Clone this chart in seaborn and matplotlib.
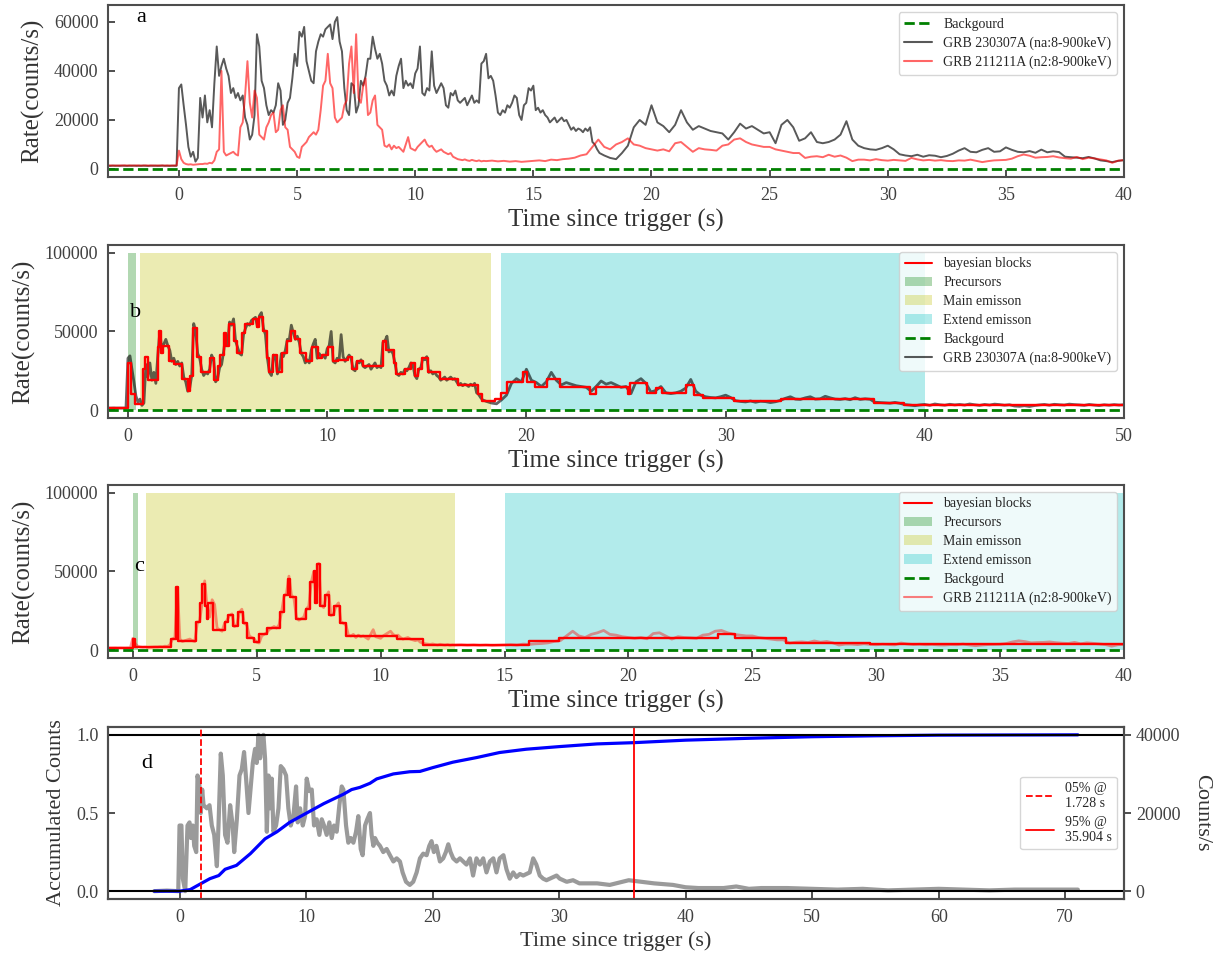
import numpy as np
import matplotlib
matplotlib.use("Agg")
import matplotlib.pyplot as plt
from matplotlib.lines import Line2D
from matplotlib.patches import Patch
import seaborn as sns

# ---------------------------------------------------------------- data
# GRB 230307A (NaI, 8-900 keV): 0.1 s bins from -3 to 18 s, 0.25 s bins to 50 s
t_na = np.concatenate([np.round(np.arange(-3.0, 18.0 - 1e-9, 0.1), 2),
                       np.round(np.arange(18.0, 50.0 + 1e-9, 0.25), 2)])
rate_na = [
    1300, 1250, 1350, 1280, 1320, 1260, 1340, 1300, 1270, 1330,
    1290, 1350, 1260, 1310, 1280, 1340, 1300, 1250, 1320, 1290,
    1330, 1270, 1310, 1350, 1280, 1300, 1260, 1340, 1290, 1310,
    33000, 34500, 26000, 18000, 9000, 5000, 7000, 3000, 4500, 29000,
    21000, 30000, 19000, 24000, 17000, 35000, 50000, 38000, 42000, 45000,
    41000, 38000, 31000, 33000, 29000, 31000, 28000, 30000, 21000, 18000,
    12000, 14000, 22000, 55000, 50000, 36000, 33000, 26000, 22000, 24000,
    23000, 26000, 35000, 32000, 18000, 20000, 27000, 29000, 37000, 47000,
    42000, 56000, 54000, 58000, 44000, 40000, 36000, 35000, 48000, 52000,
    55000, 54000, 57000, 58000, 59000, 53000, 60000, 62000, 52000, 48000,
    33000, 24000, 22000, 35000, 34000, 23000, 26000, 36000, 34000, 38000,
    45000, 45000, 54000, 49000, 45000, 47000, 43000, 36000, 34000, 30000,
    32000, 30000, 38000, 42000, 45000, 33000, 36000, 34000, 35000, 33000,
    39000, 41000, 50000, 31000, 30000, 33000, 32000, 48000, 34000, 31000,
    33000, 35000, 33000, 26000, 25000, 31000, 30000, 32000, 28000, 27000,
    28000, 29000, 26000, 28000, 30000, 27000, 28000, 27000, 43000, 44000,
    47000, 37000, 38000, 36000, 30000, 23000, 22000, 24000, 23000, 26000,
    25000, 27000, 30000, 29000, 22000, 20000, 26000, 27000, 33000, 32000,
    34000, 24000, 25000, 23000, 24000, 22000, 21000, 19000, 20000, 21000,
    19000, 20000, 21000, 19500, 20000, 18000, 16000, 17000, 15500, 16500,
    16000, 15000, 16500, 15500, 17000, 11000, 10000, 8000, 6500, 6000,
    # 0.25 s bins from 18 s
    5500, 4500, 4000, 6500, 9500, 17000, 20000, 18000,
    26000, 19000, 17500, 15000, 18000, 24000, 19000, 16000,
    17500, 16500, 15500, 15000, 14500, 12000, 15000, 18500,
    16500, 17500, 16000, 14500, 15000, 10500, 18000, 20000,
    17000, 11500, 12500, 15000, 11000, 10500, 11000, 12000,
    14000, 19500, 12000, 9500, 8500, 8000, 7800, 8500,
    9500, 8000, 6000, 5500, 5200, 5800, 5000, 5600,
    5400, 4800, 5300, 6200, 7500, 8500, 7000, 6800,
    7800, 8500, 7000, 7200, 8800, 7800, 7000, 6800,
    7300, 6600, 7900, 6800, 7200, 6900, 5000, 4800,
    4600, 4400, 4900, 4300, 3500, 3200, 2800, 3300,
    3600, 3000, 3900, 3400, 3100, 3700, 3300, 3600,
    3200, 3900, 3400, 3000, 3600, 3200, 3800, 3500,
    3100, 3400, 2600, 2400, 2800, 2300, 2900, 3300,
    3600, 3100, 3700, 3400, 3200, 3800, 3500, 3300,
    3000, 3600, 3200, 2900, 3400, 3100, 3500, 3200,
    3400,
]

# GRB 211211A (n2, 8-900 keV): 0.1 s bins from -3 to 13 s, 0.25 s bins to 40 s
t_n2 = np.concatenate([np.round(np.arange(-3.0, 13.0 - 1e-9, 0.1), 2),
                       np.round(np.arange(13.0, 40.0 + 1e-9, 0.25), 2)])
rate_n2 = [
    1400, 1450, 1380, 1420, 1360, 1440, 1400, 1470, 1390, 1410,
    1430, 1370, 1450, 1400, 1380, 1420, 1460, 1390, 1410, 1440,
    1370, 1420, 1400, 1450, 1380, 1430, 1400, 1360, 1440, 1410,
    7500, 4000, 2500, 2000, 1800, 1900, 1700, 1800, 1900, 2000,
    2000, 2200, 2100, 2500, 2300, 3500, 7000, 8000, 40000, 7000,
    5500, 6000, 6500, 7000, 6000, 5500, 17000, 19000, 30000, 44000,
    27000, 21000, 32000, 29000, 14000, 13000, 12000, 17000, 19000, 22000,
    23000, 15000, 16000, 24000, 26000, 17000, 16000, 9000, 8000, 7000,
    5000, 4500, 9000, 10000, 11000, 13000, 14000, 15000, 14000, 16000,
    24000, 34000, 36000, 47000, 35000, 33000, 21000, 19000, 20000, 21000,
    26000, 28000, 43000, 50000, 31000, 55000, 29000, 27000, 34000, 37000,
    22000, 23000, 28000, 30000, 18000, 17000, 16000, 9500, 9000, 10000,
    8000, 9500, 8500, 9000, 8000, 7000, 10000, 13000, 8500, 8000,
    7500, 9000, 10000, 11000, 12000, 10000, 9000, 9500, 8000, 7000,
    7500, 8000, 7000, 6500, 6000, 6500, 5000, 4500, 4000, 3800,
    3600, 3900, 3500, 3300, 3700, 3400, 3200, 3500, 3100, 3300,
    # 0.25 s bins from 13 s
    3200, 3400, 3100, 3300, 3000, 3200, 2900, 3100,
    3300, 3500, 3200, 3800, 3600, 4000, 4200, 4600,
    5500, 6000, 9000, 12000, 9000, 8000, 10000, 11000,
    12500, 10000, 9500, 8500, 8000, 7500, 8000, 7200,
    10500, 11000, 9000, 7000, 8500, 8000, 7800, 7500,
    9500, 10000, 12000, 12500, 11000, 10000, 9500, 9000,
    9000, 8000, 7500, 7000, 6500, 6500, 4500, 5000,
    5200, 4800, 5800, 5000, 5500, 4600, 3200, 3800,
    3800, 3500, 4000, 3600, 3400, 3700, 3500, 3300,
    4500, 3900, 3500, 3700, 3400, 3600, 3300, 3200,
    3500, 3400, 3800, 3300, 2800, 3200, 3500, 3600,
    3700, 4200, 5200, 5900, 5400, 4600, 4800, 4900,
    5200, 4700, 4400, 4200, 4900, 4000, 4600, 4300,
    3900, 3500, 2500, 3400, 3600,
]
assert len(rate_na) == len(t_na) and len(rate_n2) == len(t_n2)

background_rate = 0.0

# Bayesian blocks: [block start (s), rate (counts/s)]
blocks_na = [
    [-1.0, 1500], [0.0, 30000], [0.14, 10000], [0.36, 4000], [0.75, 26000],
    [0.87, 34000], [0.99, 19000], [1.5, 40000], [1.58, 50000], [1.64, 36000],
    [1.74, 41000], [2.07, 31000], [2.33, 29000], [2.73, 20000], [3.02, 12000],
    [3.12, 22000], [3.26, 52000], [3.46, 34000], [3.66, 24000], [4.11, 33000],
    [4.31, 19000], [4.5, 28000], [4.64, 35000], [4.8, 49000], [4.94, 41000],
    [5.06, 55000], [5.3, 44000], [5.49, 36000], [5.73, 49000], [5.89, 55000],
    [6.28, 58000], [6.48, 53000], [6.58, 59000], [6.78, 50000], [6.98, 33000],
    [7.08, 24000], [7.27, 35000], [7.47, 24000], [7.71, 36000], [7.96, 44000],
    [8.2, 50000], [8.36, 45000], [8.66, 36000], [8.95, 31000], [9.25, 40000],
    [9.55, 33000], [9.74, 35000], [10.04, 40000], [10.28, 31000], [10.53, 32000],
    [11.03, 34000], [11.26, 26000], [11.52, 31000], [11.78, 28000], [12.8, 44000],
    [12.96, 38000], [13.36, 30000], [13.46, 23000], [13.89, 26000], [14.19, 30000],
    [14.39, 22000], [14.55, 26000], [14.78, 33000], [15.08, 24000], [15.67, 20000],
    [16.56, 16000], [17.55, 10000], [17.79, 6000], [18.44, 7000], [18.74, 11000],
    [19.03, 18000], [19.82, 24000], [20.02, 18000], [20.41, 15000], [21.01, 20000],
    [21.7, 15000], [23.18, 10000], [23.48, 15000], [25.1, 10000], [25.2, 17000],
    [26.06, 11000], [26.5, 14000], [26.8, 10800], [28.0, 16000], [28.4, 9500],
    [28.85, 8000], [30.4, 5500], [32.8, 7000], [37.45, 4500], [38.95, 3000],
    [40.3, 3500],
]
blocks_na_end = 50.0

blocks_n2 = [
    [-1.0, 1500], [0.0, 7000], [0.1, 2000], [1.55, 7000], [1.75, 40000],
    [1.82, 6000], [2.55, 18000], [2.7, 30000], [2.8, 42000], [2.9, 28000],
    [3.0, 20000], [3.05, 30000], [3.25, 13000], [3.7, 18000], [3.85, 22000],
    [4.05, 15000], [4.25, 24000], [4.45, 17000], [4.6, 8000], [4.9, 5000],
    [5.1, 10000], [5.4, 14000], [5.95, 24000], [6.1, 35000], [6.25, 45000],
    [6.35, 34000], [6.6, 20000], [7.0, 26000], [7.15, 43000], [7.3, 50000],
    [7.35, 30000], [7.45, 55000], [7.55, 28000], [7.75, 35000], [7.9, 22000],
    [8.1, 28000], [8.35, 17000], [8.6, 9000], [10.65, 7000], [11.7, 3500],
    [16.0, 5500], [17.2, 8000], [23.6, 10300], [24.3, 7500], [26.34, 4700],
    [29.74, 3600],
]
blocks_n2_end = 40.0

# Emission phases (s)
precursor_na, main_na, extended_na = [0.0, 0.4], [0.6, 18.2], [18.7, 40.0]
precursor_n2, main_n2, extended_n2 = [0.0, 0.2], [0.55, 13.0], [15.0, 40.0]
phase_top = 100000

# GRB 230307A light curve used for the duration estimate (counts/s)
t_dur = [-2.0, -1.0, -0.1, 0.0, 0.15, 0.26, 0.45, 0.63, 0.79, 0.9, 1.05, 1.16,
         1.32, 1.42, 1.58, 1.68, 1.79, 1.9, 2.16, 2.37, 2.55, 2.74, 2.95, 3.08,
         3.26, 3.42, 3.6, 3.79, 4.0, 4.2, 4.32, 4.53, 4.74, 4.92, 5.1, 5.26,
         5.45, 5.63, 5.79, 5.97, 6.1, 6.24, 6.37, 6.5, 6.63, 6.76, 6.9, 7.03,
         7.16, 7.29, 7.42, 7.63, 7.82, 8.0, 8.21, 8.42, 8.6, 8.79, 9.0, 9.21,
         9.34, 9.53, 9.74, 9.92, 10.05, 10.26, 10.45, 10.63, 10.84, 11.05, 11.24,
         11.42, 11.63, 11.84, 12.03, 12.21, 12.42, 12.63, 12.82, 12.95, 13.16,
         13.34, 13.53, 13.74, 13.95, 14.13, 14.32, 14.47, 14.66, 14.84, 15.05,
         15.18, 15.32, 15.45, 15.63, 15.84, 16.1, 16.37, 16.63, 16.9, 17.16,
         17.42, 17.63, 17.9, 18.2, 18.47, 18.74, 19.0, 19.26, 19.53, 19.74,
         19.92, 20.1, 20.3, 20.58, 20.84, 21.05, 21.24, 21.42, 21.63, 21.9,
         22.16, 22.42, 22.68, 22.95, 23.2, 23.47, 23.74, 24.0, 24.26, 24.53,
         24.8, 25.05, 25.3, 25.6, 25.84, 26.1, 26.37, 26.63, 26.9, 27.16, 27.42,
         27.68, 27.95, 28.2, 28.47, 28.74, 29.0, 29.26, 29.8, 30.05, 30.6, 31.1,
         31.6, 32.0, 33.0, 34.0, 35.0, 35.5, 36.5, 37.5, 39.0, 40.0, 41.0, 43.0,
         44.0, 45.0, 46.0, 48.0, 50.0, 52.0, 54.0, 56.0, 58.0, 60.0, 62.0, 64.0,
         66.0, 68.0, 70.0, 71.0]
rate_dur = [0, 150, 0, 16800, 16800, 3200, 0, 16800, 17600, 13600, 16800, 11600,
            10000, 29600, 26800, 20000, 26000, 22000, 21200, 22000, 16800, 14400,
            6400, 16800, 35200, 29600, 14400, 12400, 22000, 16800, 10000, 18400,
            29600, 31200, 35600, 28800, 20000, 26800, 32800, 36400, 32800, 40000,
            34000, 38000, 40000, 34000, 15200, 29600, 21200, 28800, 15200, 16800,
            21200, 32000, 31200, 29600, 21200, 16800, 19200, 26800, 17600, 21200,
            16800, 19200, 28800, 25600, 26000, 16800, 18400, 14400, 18400, 16800,
            14400, 17600, 13600, 16800, 15200, 22000, 26800, 26000, 16800, 12400,
            13600, 12400, 15200, 19200, 10800, 9200, 16800, 18400, 20000, 14400,
            11600, 13600, 12400, 11600, 10000, 10800, 9200, 7600, 8400, 7600, 4800,
            2400, 1600, 2400, 4800, 8400, 9600, 9200, 11600, 12800, 10000, 11600,
            7600, 8400, 10000, 12000, 10000, 8400, 7600, 8400, 7600, 6800, 8400,
            4000, 8400, 6800, 8400, 4800, 7600, 8400, 4800, 8400, 9200, 5600, 3200,
            4800, 3600, 4400, 4000, 4400, 4800, 8400, 6800, 4000, 3200, 2800, 3200,
            4000, 3200, 2400, 2800, 2000, 2000, 2000, 1600, 2400, 2800, 2400, 2000,
            1600, 1000, 800, 800, 1200, 600, 800, 800, 600, 400, 600, 200, 400, 600,
            400, 200, 400, 400, 400, 400]
assert len(t_dur) == len(rate_dur)

# Normalised accumulated counts
t_cum = [-2.0, 0.0, 0.84, 1.728, 2.4, 3.1, 3.6, 4.5, 5.6, 6.76, 7.7, 8.7, 10.05,
         11.4, 12.95, 13.6, 14.26, 15.05, 15.58, 16.9, 18.2, 19.0, 20.0, 21.6,
         23.5, 25.3, 27.4, 30.05, 31.6, 33.0, 35.904, 40.0, 45.0, 50.0, 55.0,
         60.0, 65.0, 71.0]
frac_cum = [0.0, 0.0, 0.01, 0.05, 0.08, 0.10, 0.14, 0.165, 0.24, 0.335, 0.38,
            0.44, 0.5, 0.56, 0.62, 0.65, 0.664, 0.69, 0.718, 0.75, 0.764, 0.766,
            0.79, 0.825, 0.855, 0.887, 0.908, 0.925, 0.934, 0.942, 0.95, 0.966,
            0.978, 0.988, 0.994, 0.998, 0.999, 1.0]
assert len(t_cum) == len(frac_cum)
t05, t95 = 1.728, 35.904

# ---------------------------------------------------------------- style
sns.set_theme(style="ticks", color_codes=False)
plt.rcParams["font.family"] = ["Liberation Serif", "DejaVu Serif"]
plt.rcParams["axes.edgecolor"] = "0.3"
plt.rcParams["axes.linewidth"] = 1.5
plt.rcParams["text.color"] = "0.15"
plt.rcParams["axes.labelcolor"] = "0.2"
plt.rcParams["xtick.color"] = "0.25"
plt.rcParams["ytick.color"] = "0.25"

GREEN = (0.0, 0.5, 0.0)
OLIVE = (0.75, 0.75, 0.0)
CYAN = (0.0, 0.75, 0.75)

LAB = 18
TICK = 13
LEG = 10
GREY = dict(color="k", alpha=0.65)
RED_A = dict(color="red", alpha=0.6)

fig = plt.figure(figsize=(12.25, 9.58), dpi=100)
ax_a = fig.add_axes([0.0882, 0.8152, 0.8294, 0.1795])
ax_b = fig.add_axes([0.0882, 0.5637, 0.8294, 0.1806])
ax_c = fig.add_axes([0.0882, 0.3132, 0.8294, 0.1806])
ax_d = fig.add_axes([0.0882, 0.0616, 0.8294, 0.1795])


def style_axes(ax):
    ax.tick_params(axis="both", which="both", direction="in", labelsize=TICK,
                   length=5, width=1.3, pad=7, bottom=True, left=True,
                   top=False, right=False)
    for s in ax.spines.values():
        s.set_linewidth(1.5)
        s.set_color("0.3")


def legend_box(ax, handles, labels, **kw):
    return ax.legend(handles, labels, fontsize=LEG, frameon=True, fancybox=True,
                     framealpha=0.8, edgecolor="0.8", labelspacing=0.42, **kw)


def block_line(ax, blocks, end, **kw):
    starts = [b[0] for b in blocks] + [end]
    rates = [b[1] for b in blocks] + [blocks[-1][1]]
    sns.lineplot(x=starts, y=rates, ax=ax, drawstyle="steps-post", estimator=None,
                 sort=False, legend=False, **kw)


def phases(ax, pre, main, ext):
    ax.fill_between(pre, 0, phase_top, color=GREEN, alpha=0.3, lw=0)
    ax.fill_between(main, 0, phase_top, color=OLIVE, alpha=0.3, lw=0)
    ax.fill_between(ext, 0, phase_top, color=CYAN, alpha=0.3, lw=0)


bg_handle = Line2D([], [], color=GREEN, ls="--", lw=2)
na_handle = Line2D([], [], lw=1.5, **GREY)
n2_handle = Line2D([], [], lw=1.5, **RED_A)
bb_handle = Line2D([], [], color="red", lw=1.5)
pre_handle = Patch(facecolor=GREEN, alpha=0.3, lw=0)
main_handle = Patch(facecolor=OLIVE, alpha=0.3, lw=0)
ext_handle = Patch(facecolor=CYAN, alpha=0.3, lw=0)

# ---------------------------------------------------------------- panel a
sns.lineplot(x=t_na, y=rate_na, ax=ax_a, lw=1.4, estimator=None, sort=False,
             legend=False, **GREY)
sns.lineplot(x=t_n2, y=rate_n2, ax=ax_a, lw=1.4, estimator=None, sort=False,
             legend=False, **RED_A)
ax_a.axhline(background_rate, color=GREEN, ls="--", lw=2)
ax_a.set_xlim(-3, 40)
ax_a.set_ylim(-3300, 66900)
ax_a.set_yticks([0, 20000, 40000, 60000])
ax_a.set_xlabel("Time since trigger (s)", fontsize=LAB)
ax_a.set_ylabel("Rate(counts/s)", fontsize=LAB, labelpad=7)
ax_a.text(-1.8, 60000, "a", fontsize=16, color="k")
style_axes(ax_a)
legend_box(ax_a, [bg_handle, na_handle, n2_handle],
           ["Backgourd", "GRB 230307A (na:8-900keV)", "GRB 211211A (n2:8-900keV)"],
           loc="upper right")

# ---------------------------------------------------------------- panel b
phases(ax_b, precursor_na, main_na, extended_na)
sns.lineplot(x=t_na, y=rate_na, ax=ax_b, lw=2.0, estimator=None, sort=False,
             legend=False, color="k", alpha=0.6)
block_line(ax_b, blocks_na, blocks_na_end, color="red", lw=1.7)
ax_b.axhline(background_rate, color=GREEN, ls="--", lw=2)
ax_b.set_xlim(-1, 50)
ax_b.set_ylim(-5000, 105000)
ax_b.set_yticks([0, 50000, 100000])
ax_b.set_xlabel("Time since trigger (s)", fontsize=LAB)
ax_b.set_ylabel("Rate(counts/s)", fontsize=LAB, labelpad=7)
ax_b.text(0.1, 59000, "b", fontsize=16, color="k")
style_axes(ax_b)
legend_box(ax_b, [bb_handle, pre_handle, main_handle, ext_handle, bg_handle, na_handle],
           ["bayesian blocks", "Precursors", "Main emisson", "Extend emisson",
            "Backgourd", "GRB 230307A (na:8-900keV)"], loc="upper right")

# ---------------------------------------------------------------- panel c
phases(ax_c, precursor_n2, main_n2, extended_n2)
sns.lineplot(x=t_n2, y=rate_n2, ax=ax_c, lw=2.0, estimator=None, sort=False,
             legend=False, color="red", alpha=0.4)
block_line(ax_c, blocks_n2, blocks_n2_end, color="red", lw=1.7)
ax_c.axhline(background_rate, color=GREEN, ls="--", lw=2)
ax_c.set_xlim(-1, 40)
ax_c.set_ylim(-5000, 105000)
ax_c.set_yticks([0, 50000, 100000])
ax_c.set_xlabel("Time since trigger (s)", fontsize=LAB)
ax_c.set_ylabel("Rate(counts/s)", fontsize=LAB, labelpad=7)
ax_c.text(0.05, 50000, "c", fontsize=16, color="k")
style_axes(ax_c)
legend_box(ax_c, [bb_handle, pre_handle, main_handle, ext_handle, bg_handle,
                  Line2D([], [], color="red", alpha=0.5, lw=1.5)],
           ["bayesian blocks", "Precursors", "Main emisson", "Extend emisson",
            "Backgourd", "GRB 211211A (n2:8-900keV)"], loc="upper right")

# ---------------------------------------------------------------- panel d
ax_r = ax_d.twinx()
sns.lineplot(x=t_dur, y=rate_dur, ax=ax_r, color="#9a9a9a", lw=3, estimator=None,
             sort=False, legend=False)
ax_r.set_ylim(-2000, 42000)
ax_r.set_yticks([0, 20000, 40000])
ax_r.set_ylabel("Counts/s", fontsize=16, rotation=270, labelpad=22)
ax_r.tick_params(axis="y", labelsize=TICK, direction="out", length=5, width=1.3)
ax_r.grid(False)

sns.lineplot(x=t_cum, y=frac_cum, ax=ax_d, color="blue", lw=2.3, estimator=None,
             sort=False, legend=False)
ax_d.axhline(0, color="k", lw=1.5)
ax_d.axhline(1, color="k", lw=1.5)
ax_d.axvline(t05, color="red", ls="--", lw=1.3)
ax_d.axvline(t95, color="red", ls="-", lw=1.3)
ax_d.set_xlim(-5.65, 74.65)
ax_d.set_ylim(-0.05, 1.05)
ax_d.set_yticks([0.0, 0.5, 1.0])
ax_d.set_xlabel("Time since trigger (s)", fontsize=16)
ax_d.set_ylabel("Accumulated Counts", fontsize=16, labelpad=7)
ax_d.text(-3.0, 0.79, "d", fontsize=16, color="k")
style_axes(ax_d)
ax_d.set_zorder(ax_r.get_zorder() + 1)
ax_d.patch.set_visible(False)
legend_box(ax_d, [Line2D([], [], color="red", ls="--", lw=1.3),
                  Line2D([], [], color="red", ls="-", lw=1.3)],
           [f"05% @\n{t05:.3f} s", f"95% @\n{t95:.3f} s"], loc="center right")
for s in ax_r.spines.values():
    s.set_linewidth(1.5)
    s.set_color("0.3")

fig.savefig("out.png", dpi=100)
